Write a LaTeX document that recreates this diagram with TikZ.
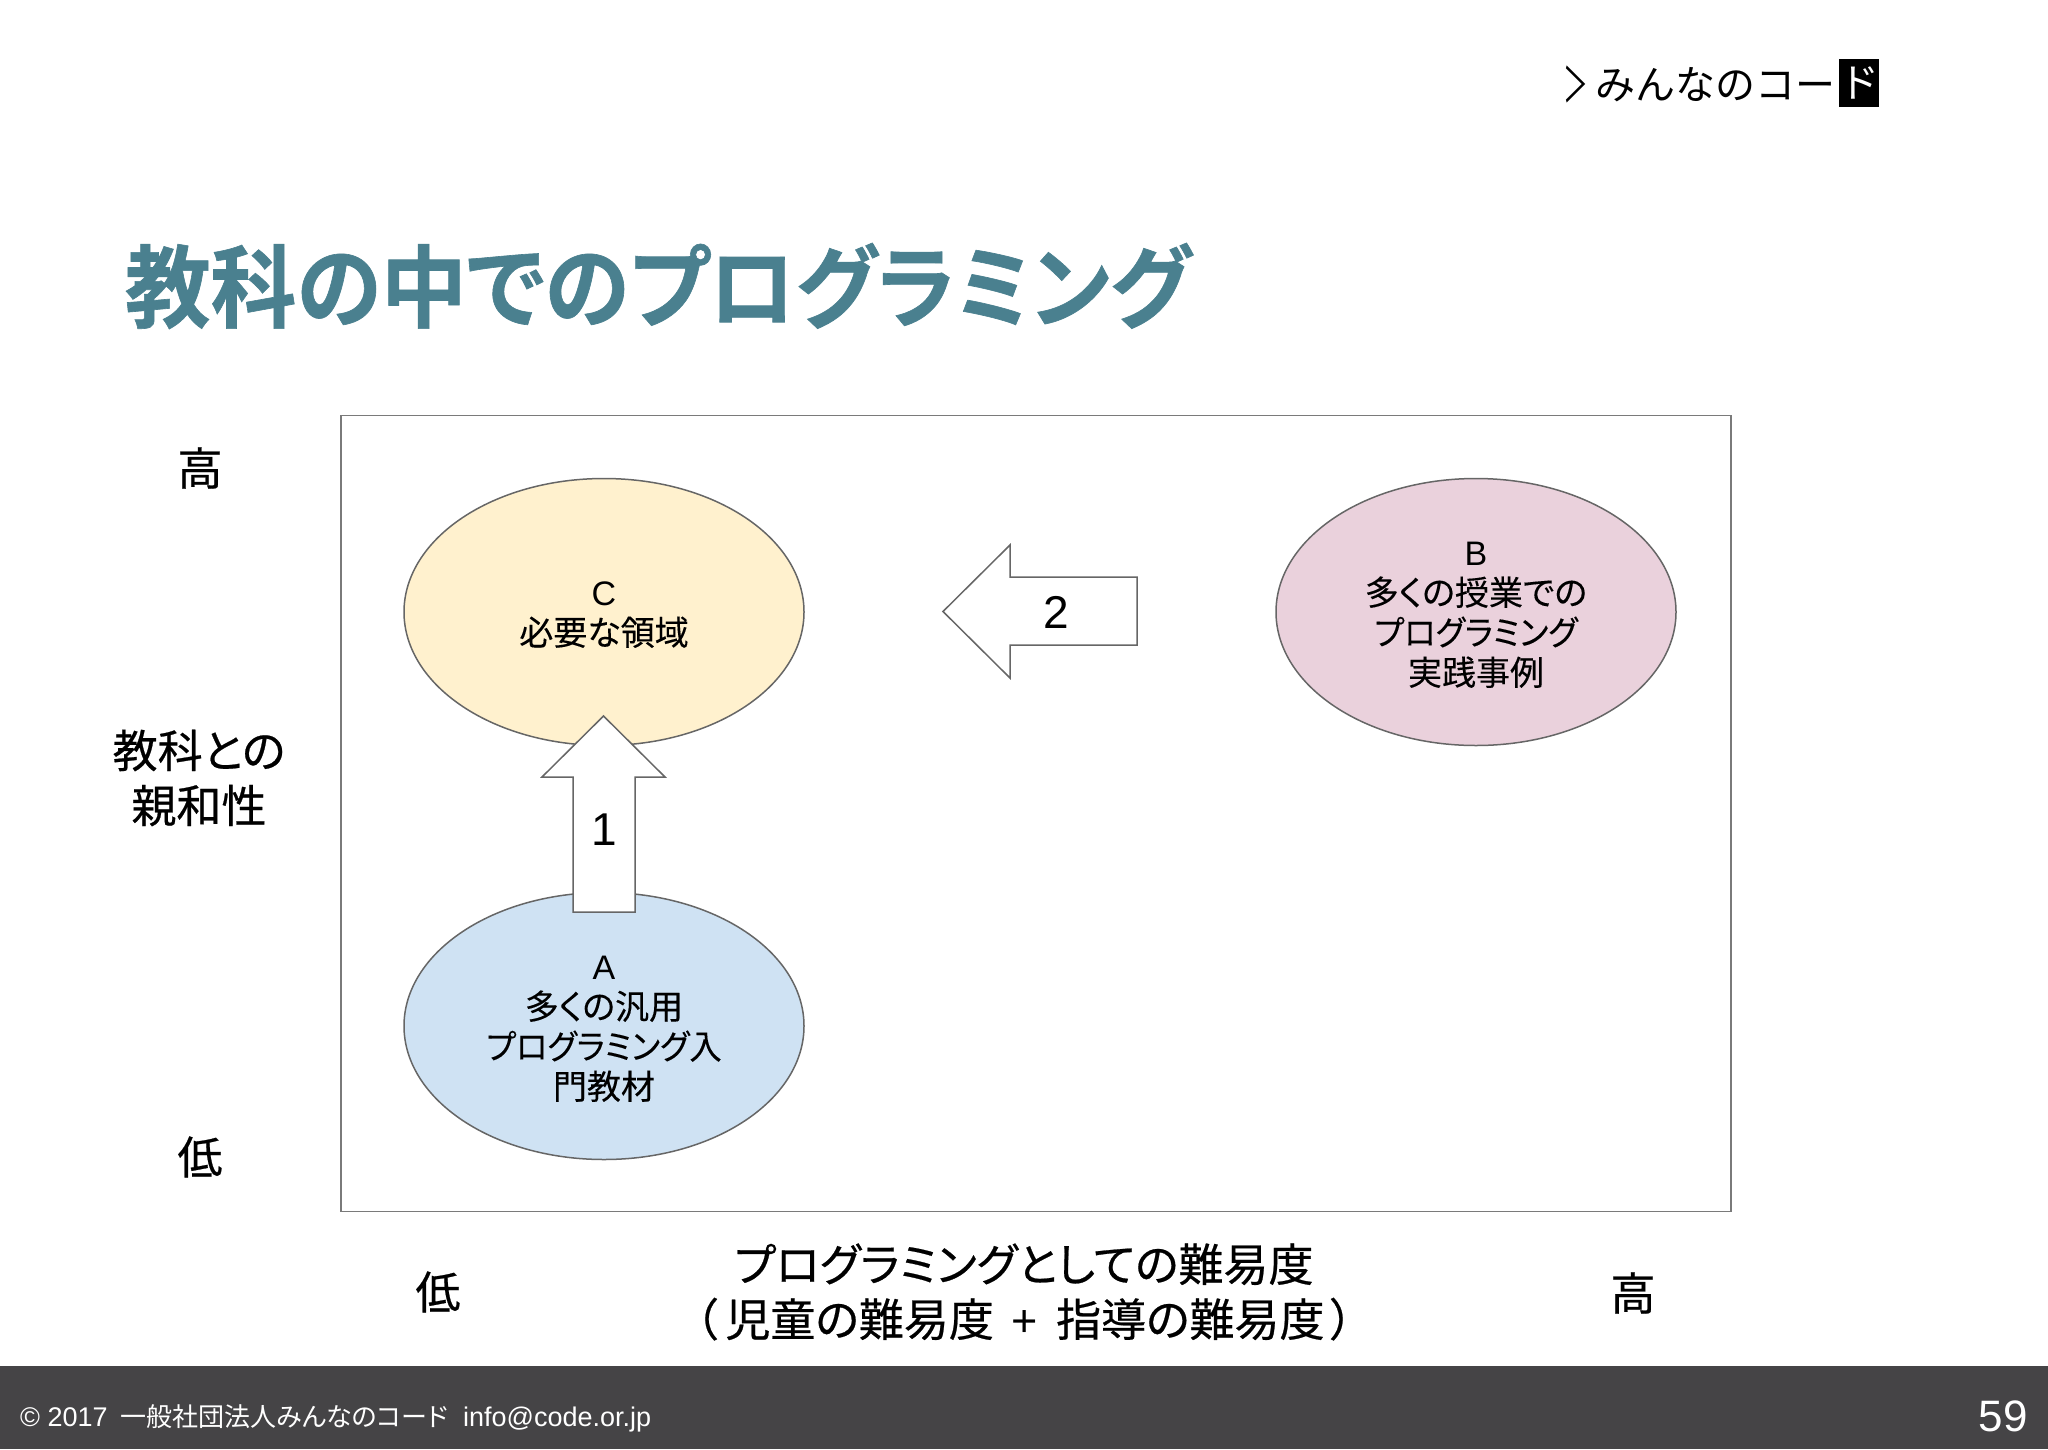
\documentclass[tikz,border=0pt]{standalone}
\usepackage{fontspec}
\usetikzlibrary{shapes.geometric}
\setmainfont{Liberation Sans}
\newfontfamily\jplogo{Noto Sans CJK JP}
\newfontfamily\jp[RawFeature=+palt,FakeBold=0.2]{Noto Sans CJK JP}
\newfontfamily\jpfoot[RawFeature=+palt]{Noto Sans CJK JP}
\newfontfamily\jpax[RawFeature=+palt,FakeBold=0.5]{Noto Sans CJK JP}
\newfontfamily\jptitle[RawFeature=+palt,FakeBold=0.7]{Noto Sans CJK JP Bold}
\definecolor{titleteal}{HTML}{4A808F}
\definecolor{footbar}{HTML}{454446}
\definecolor{edge}{HTML}{666666}
\definecolor{framegray}{HTML}{7A7A7A}
\definecolor{fillC}{HTML}{FFF1CE}
\definecolor{fillB}{HTML}{EAD1DC}
\definecolor{fillA}{HTML}{CFE2F3}
\newcommand{\fs}[2]{\fontsize{#1}{#2}\selectfont}
\newcommand{\topfix}{\rule{0pt}{29pt}}
\tikzset{
  blob/.style={ellipse,draw=edge,line width=1.5pt,minimum width=400pt,minimum height=267pt,inner sep=0pt,align=center,font=\fs{34}{40}},
  axis/.style={align=center,inner sep=0pt,font=\jpax\fs{45}{55}},
  bigarrow/.style={draw=edge,line width=1.5pt,fill=white,line join=miter},
  numlabel/.style={inner sep=0pt,font=\fs{46}{50}},
}
\begin{document}
\begin{tikzpicture}[x=1pt,y=-1pt]
\useasboundingbox (0,0) rectangle (2048,1449);
\fill[white] (0,0) rectangle (2048,1449);
% logo
\node[inner sep=0pt,font=\jplogo\fs{40}{44}] (logoarrow) at (1576,84) {\scalebox{.62}[1.2]{＞}};
\node[anchor=west,inner sep=0pt,font=\jplogo\fs{40}{44}] (logotext) at (1595,85) {みんなのコー};
\node[fill=black,text=white,minimum width=40pt,minimum height=48pt,inner sep=0pt,font=\jplogo\fs{40}{44}] (logobox) at (1859,83) {ド};
% title
\node[inner sep=0pt,text=titleteal,font=\jptitle\fs{90}{96}] (title) at (658,286) {\scalebox{.953}[1]{教科の中でのプログラミング}};
% frame
\node[draw=framegray,line width=1.5pt,fill=white,minimum width=1390pt,minimum height=796pt,inner sep=0pt] (frame) at (1036,813.5) {};
% ellipses
\node[blob,fill=fillC] (C) at (604,612) {\topfix C\\{\jp 必要な領域}};
\node[blob,fill=fillB] (B) at (1476,612) {\topfix B\\{\jp 多くの授業での}\\{\jp \scalebox{.95}[1]{プログラミング}}\\{\jp 実践事例}};
\node[blob,fill=fillA] (A) at (604,1026) {\topfix A\\{\jp 多くの汎用}\\{\jp \scalebox{.95}[1]{プログラミング入}}\\{\jp 門教材}};
% block arrows
\draw[bigarrow] (603.5,716) -- (665,777) -- (635,777) -- (635,912) -- (573,912) -- (573,777) -- (542,777) -- cycle;
\node[numlabel] (one) at (604,830) {1};
\draw[bigarrow] (943,611.5) -- (1010,545) -- (1010,577) -- (1137,577) -- (1137,645) -- (1010,645) -- (1010,678) -- cycle;
\node[numlabel] (two) at (1056,612) {2};
% axis labels
\node[axis] (yhigh) at (200,468) {高};
\node[axis] (ytitle) at (199,778) {教科との\\親和性};
\node[axis] (ylow) at (200,1157) {低};
\node[axis] (xlow) at (438,1292) {低};
\node[axis] (xtitle) at (1024,1292) {プログラミングとしての難易度\\（\hspace{8pt}児童の難易度\hspace{18pt}{\rmfamily +}\hspace{18pt}指導の難易度\hspace{6pt}）};
\node[axis] (xhigh) at (1633,1293) {高};
% footer
\fill[footbar] (0,1366) rectangle (2048,1449);
\node[anchor=base west,inner sep=0pt,text=white,font=\fs{27}{30}] (foot) at (20,1426) {© 2017 {\jpfoot\fs{26}{30} 一般社団法人みんなのコード}\ \ info@code.or.jp};
\node[anchor=base east,inner sep=0pt,text=white,font=\fs{44}{50}] (page) at (2028,1431) {59};
\end{tikzpicture}
\end{document}
